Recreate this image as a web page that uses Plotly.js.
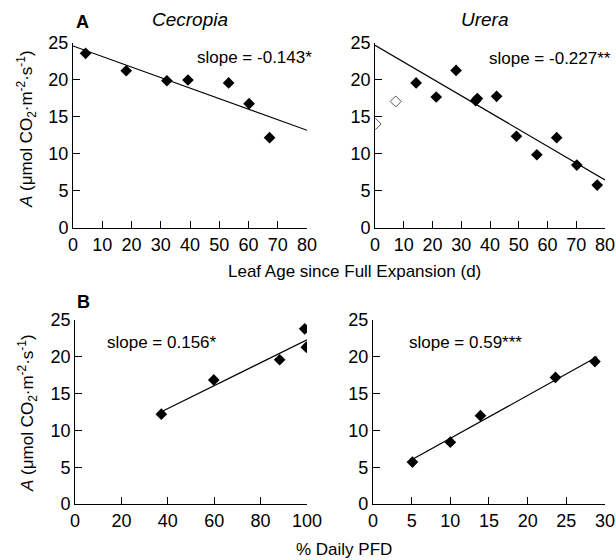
<!DOCTYPE html>
<html>
<head>
<meta charset="utf-8">
<script src="https://cdn.plot.ly/plotly-3.0.1.min.js"></script>
<style>html,body{margin:0;padding:0;background:#fff;}#chart{width:616px;height:560px;}</style>
</head>
<body>
<div id="chart"></div>
<script>
// Panel A, Cecropia: leaf age (d) vs A
const cecAge = [4.3, 18.2, 32.1, 39.3, 53.2, 60.2, 67.2];
const cecA = [23.6, 21.25, 19.9, 20.0, 19.6, 16.8, 12.2];
const cecFitX = [0, 80];
const cecFitY = [24.6, 13.2];

// Panel A, Urera: filled and open points
const urAge = [14.3, 21.3, 28.2, 35.0, 35.6, 42.3, 49.2, 56.3, 63.2, 70.2, 77.3];
const urA = [19.6, 17.7, 21.3, 17.2, 17.5, 17.8, 12.4, 9.9, 12.2, 8.5, 5.8];
const urOpenAge = [0.2, 7.2];
const urOpenA = [14.05, 17.1];
const urFitX = [0, 80];
const urFitY = [24.7, 6.5];

// Panel B, Cecropia: % daily PFD vs A
const cecPFD = [37.2, 59.8, 88.2, 99.0, 99.7];
const cecPFDA = [12.2, 16.85, 19.6, 23.8, 21.3];
const cecPFDFitX = [37, 100];
const cecPFDFitY = [12.5, 22.3];

// Panel B, Urera
const urPFD = [5.1, 10.0, 13.9, 23.6, 28.7];
const urPFDA = [5.7, 8.4, 12.0, 17.2, 19.35];
const urPFDFitX = [5, 29];
const urPFDFitY = [6.0, 20.0];

const slopeLabels = ["slope = -0.143*", "slope = -0.227**", "slope = 0.156*", "slope = 0.59***"];
const panelTitles = ["<i>Cecropia</i>", "<i>Urera</i>"];
const yTitleText = "<i>A</i> (μmol CO<sub>2</sub>·m<sup>-2</sup>·s<sup>-1</sup>)";

const FONT = "Liberation Sans, Arial, Helvetica, sans-serif";
const mk = {symbol: "diamond", size: 9, color: "#000"};
const ln = {color: "#000", width: 1.2};

const traces = [
  {x: cecFitX, y: cecFitY, mode: "lines", line: ln, xaxis: "x", yaxis: "y"},
  {x: cecAge, y: cecA, mode: "markers", marker: mk, xaxis: "x", yaxis: "y"},
  {x: urFitX, y: urFitY, mode: "lines", line: ln, xaxis: "x2", yaxis: "y2"},
  {x: urAge, y: urA, mode: "markers", marker: mk, xaxis: "x2", yaxis: "y2"},
  {x: urOpenAge, y: urOpenA, mode: "markers", marker: {symbol: "diamond-open", size: 8.5, color: "#555", line: {width: 1}}, xaxis: "x2", yaxis: "y2"},
  {x: cecPFDFitX, y: cecPFDFitY, mode: "lines", line: ln, xaxis: "x3", yaxis: "y3"},
  {x: cecPFD, y: cecPFDA, mode: "markers", marker: mk, xaxis: "x3", yaxis: "y3"},
  {x: urPFDFitX, y: urPFDFitY, mode: "lines", line: ln, xaxis: "x4", yaxis: "y4"},
  {x: urPFD, y: urPFDA, mode: "markers", marker: mk, xaxis: "x4", yaxis: "y4"}
];

function xax(domain, range, dtick, anchor) {
  return {domain: domain, range: range, dtick: dtick, tick0: 0, anchor: anchor,
    showgrid: false, zeroline: false, showline: true, linecolor: "#000", linewidth: 1,
    ticks: "inside", ticklen: 7, tickcolor: "#000", tickwidth: 1,
    tickfont: {family: FONT, size: 18, color: "#000"}, fixedrange: true};
}
function yax(domain, anchor) {
  return {domain: domain, range: [0, 25], dtick: 5, tick0: 0, anchor: anchor,
    showgrid: false, zeroline: false, showline: true, linecolor: "#000", linewidth: 1,
    ticks: "inside", ticklen: 7, tickcolor: "#000", tickwidth: 1,
    tickfont: {family: FONT, size: 18, color: "#000"}, fixedrange: true};
}

const layout = {
  width: 616, height: 560,
  margin: {l: 0, r: 0, t: 0, b: 0},
  paper_bgcolor: "#fff", plot_bgcolor: "#fff",
  showlegend: false,
  font: {family: FONT, size: 17, color: "#000"},
  xaxis: xax([0.1185, 0.4984], [0, 80], 10, "y"),
  yaxis: yax([0.5929, 0.9232], "x"),
  xaxis2: xax([0.6088, 0.9821], [0, 80], 10, "y2"),
  yaxis2: yax([0.5929, 0.9232], "x2"),
  xaxis3: xax([0.1218, 0.4984], [0, 100], 20, "y3"),
  yaxis3: yax([0.1, 0.4286], "x3"),
  xaxis4: xax([0.6055, 0.9821], [0, 30], 5, "y4"),
  yaxis4: yax([0.1, 0.4286], "x4"),
  annotations: [
    {text: "<b>A</b>", x: 82, y: 22, font: {size: 18}},
    {text: "<b>B</b>", x: 83, y: 302, font: {size: 18}},
    {text: panelTitles[0], x: 190, y: 20, font: {size: 19}},
    {text: panelTitles[1], x: 485, y: 20, font: {size: 19}},
    {text: slopeLabels[0], x: 195, y: 58, xanchor: "left"},
    {text: slopeLabels[1], x: 487, y: 59, xanchor: "left"},
    {text: slopeLabels[2], x: 105, y: 342, xanchor: "left"},
    {text: slopeLabels[3], x: 407, y: 342, xanchor: "left"},
    {text: "Leaf Age since Full Expansion (d)", x: 354, y: 271},
    {text: "% Daily PFD", x: 344, y: 549},
    {text: yTitleText, x: 27, y: 129, textangle: -90},
    {text: yTitleText, x: 27, y: 413, textangle: -90}
  ].map(a => Object.assign({xref: "paper", yref: "paper", showarrow: false}, a,
      {x: a.x / 616, y: 1 - a.y / 560, yanchor: "middle", xanchor: a.xanchor || "center"}))
};

Plotly.newPlot("chart", traces, layout, {displayModeBar: false, staticPlot: true});
</script>
</body>
</html>
